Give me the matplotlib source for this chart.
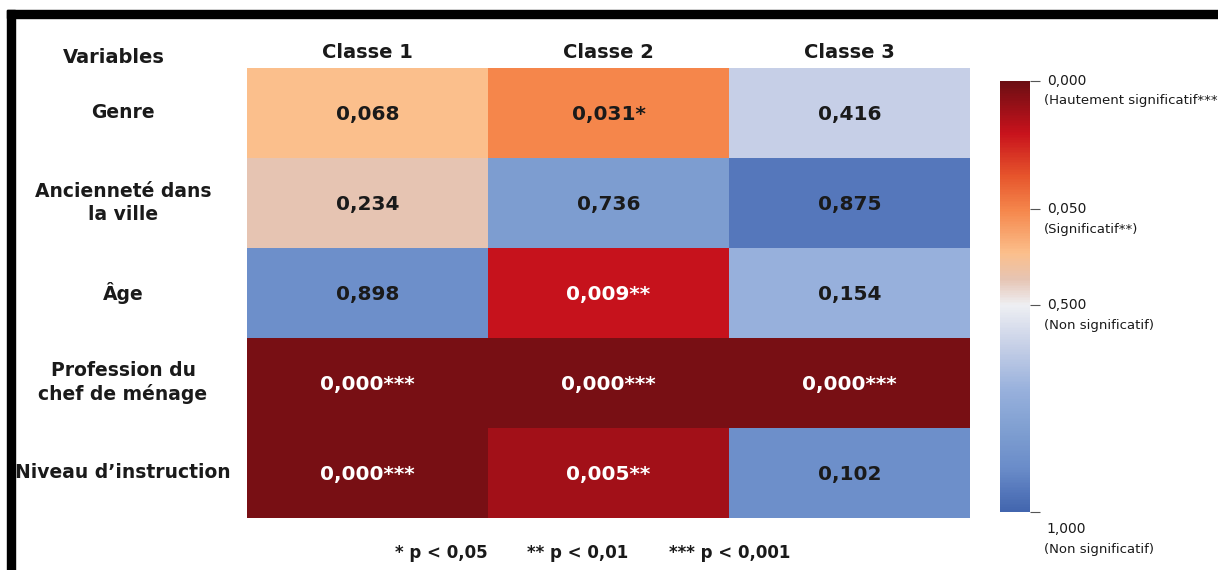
import numpy as np
import matplotlib.pyplot as plt
from matplotlib.colors import LinearSegmentedColormap, FuncNorm
from matplotlib.patches import Rectangle
from matplotlib.transforms import blended_transform_factory

plt.rcParams['font.family'] = ['DejaVu Sans']

# data
variables = ["Genre", "Ancienneté dans\nla ville", "Âge",
             "Profession du\nchef de ménage", "Niveau d\u2019instruction"]
classes = ["Classe 1", "Classe 2", "Classe 3"]
p_values = np.array([
    [0.068, 0.031, 0.416],
    [0.234, 0.736, 0.875],
    [0.898, 0.009, 0.154],
    [0.000, 0.000, 0.000],
    [0.000, 0.005, 0.102],
])
stars = [
    ["", "*", ""],
    ["", "", ""],
    ["", "**", ""],
    ["***", "***", "***"],
    ["***", "**", ""],
]
# shade each cell takes on the colour scale
shades = np.array([
    [0.26, 0.05, 0.60],
    [0.38, 0.81, 0.95],
    [0.88, 0.020, 0.71],
    [0.003, 0.003, 0.003],
    [0.003, 0.012, 0.88],
])
cbar_ticks = [0.0, 0.05, 0.5, 1.0]
cbar_values = ["0,000", "0,050", "0,500", "1,000"]
cbar_notes = ["(Hautement significatif***", "(Significatif**)",
              "(Non significatif)", "(Non significatif)"]
footnotes = ["* p < 0,05", "** p < 0,01", "*** p < 0,001"]

# colour scale: 0 -> dark red ... 1 -> blue, with stretched low end
nodes_p = [0, 0.05, 0.5, 1]
nodes_t = [0, 0.297, 0.52, 1]


def fwd(x):
    return np.interp(x, nodes_p, nodes_t)


def inv(t):
    return np.interp(t, nodes_t, nodes_p)


norm = FuncNorm((fwd, inv), vmin=0, vmax=1)
cmap = LinearSegmentedColormap.from_list("pval", [
    (0.00, "#6c0e13"),
    (0.12, "#c8121c"),
    (0.22, "#e6552c"),
    (0.30, "#f5874c"),
    (0.40, "#fbbf8c"),
    (0.46, "#e6c4b3"),
    (0.52, "#eeeff3"),
    (0.62, "#c4cee6"),
    (0.72, "#97b0dc"),
    (0.82, "#7d9dd0"),
    (0.90, "#6a8cc9"),
    (1.00, "#4265ae"),
])

W, H = 1218, 570
fig = plt.figure(figsize=(W / 100, H / 100), dpi=100)
ink = '#1a1a1a'

ax = fig.add_axes([247 / W, 1 - 518 / H, 723 / W, 450 / H])
mesh = ax.pcolormesh(shades, cmap=cmap, norm=norm)
ax.set_xlim(0, 3)
ax.set_ylim(5, 0)
ax.axis('off')

for i in range(len(variables)):
    for j in range(len(classes)):
        txt = f"{p_values[i, j]:.3f}".replace(".", ",") + stars[i][j]
        col = 'white' if fwd(shades[i, j]) < 0.2 else ink
        ax.text(j + 0.5, i + 0.58, txt, ha='center', va='baseline',
                fontsize=14.5, fontweight='bold', color=col)

# column headers
for j, c in enumerate(classes):
    ax.text(j + 0.5, -0.11, c, ha='center', va='baseline',
            fontsize=14, fontweight='bold', color=ink)

# row labels and header
fig.text(114 / W, 1 - 63 / H, "Variables", ha='center', va='baseline',
         fontsize=14, fontweight='bold', color=ink)
for i, v in enumerate(variables):
    ax.text(-124 / 241, i + 0.5, v, ha='center', va='center',
            fontsize=13.5, fontweight='bold', color=ink, linespacing=1.25)

# colour bar
cax = fig.add_axes([1000 / W, 1 - 512 / H, 30 / W, 431 / H])
cb = fig.colorbar(mesh, cax=cax, ticks=cbar_ticks)
cb.outline.set_visible(False)
cax.invert_yaxis()
cax.set_yticklabels([])
cax.tick_params(length=7, width=0.8, color='#555555')
trans = blended_transform_factory(cax.transAxes, cax.transData)
value_dy = [0, 0, 0, -12]
note_dy = [-14, -15, -15, -27]
for k, t in enumerate(cbar_ticks):
    cax.annotate(cbar_values[k], xy=(1, t), xycoords=trans,
                 xytext=(12, value_dy[k]), textcoords='offset points',
                 ha='left', va='center', fontsize=10, color=ink,
                 annotation_clip=False)
    cax.annotate(cbar_notes[k], xy=(1, t), xycoords=trans,
                 xytext=(10, note_dy[k]), textcoords='offset points',
                 ha='left', va='center', fontsize=9.5, color=ink,
                 annotation_clip=False)

for f, x in zip(footnotes, [441, 578, 730]):
    fig.text(x / W, 1 - 553 / H, f, ha='center', va='center',
             fontsize=12, fontweight='bold', color=ink)

# black frame at top and left
fig.patches.append(Rectangle((7 / W, 1 - 18 / H), 1, 8 / H,
                             transform=fig.transFigure, color='black'))
fig.patches.append(Rectangle((7 / W, 0), 8 / W, 1 - 10 / H,
                             transform=fig.transFigure, color='black'))

fig.savefig("out.png", dpi=100)
